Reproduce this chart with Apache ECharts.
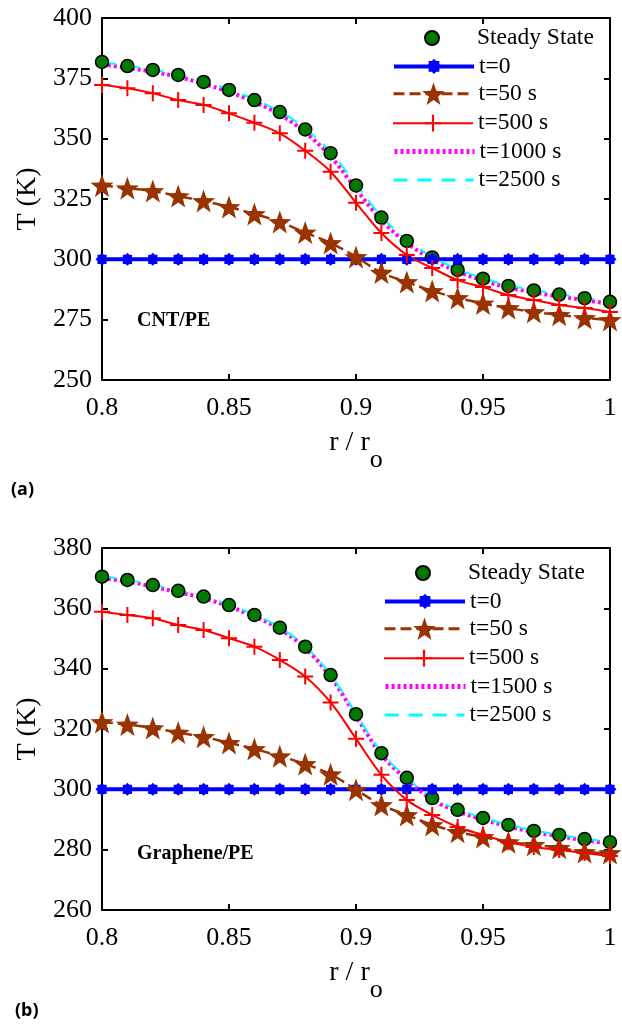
<!DOCTYPE html>
<html><head><meta charset="utf-8">
<script src="https://cdn.jsdelivr.net/npm/echarts@6/dist/echarts.min.js"></script>
<style>html,body{margin:0;padding:0;background:#fff}#c{width:622px;height:1027px}</style>
</head><body><div id="c"></div>
<script>
// ---------- data ----------
const rValues = [0.80,0.81,0.82,0.83,0.84,0.85,0.86,0.87,0.88,0.89,0.90,0.91,0.92,0.93,0.94,0.95,0.96,0.97,0.98,0.99,1.00];
const xTicks = [0.8, 0.85, 0.9, 0.95, 1];

// Panel (a) CNT/PE
const aSteady = [381.8,380.1,378.5,376.4,373.5,370.2,366.0,361.0,353.8,344.0,330.6,317.3,307.6,300.8,295.6,292.0,289.0,287.1,285.4,283.9,282.4];
const aT0     = [300,300,300,300,300,300,300,300,300,300,300,300,300,300,300,300,300,300,300,300,300];
const aT50    = [330.6,329.5,328.3,326.2,324.2,321.7,318.8,315.5,311.1,306.8,301.0,294.5,290.6,286.9,284.0,281.7,279.8,278.2,277.0,275.7,274.9];
const aT500   = [372.2,370.9,368.8,366.0,364.0,360.5,356.6,352.2,345.0,336.3,323.4,310.9,301.8,296.4,291.4,288.5,285.2,283.1,281.1,279.8,278.2];
const aT1000  = [380.8,379.3,377.7,375.6,372.7,369.4,365.2,360.0,352.6,342.6,329.2,316.2,306.8,300.0,294.9,291.2,288.3,286.3,284.6,283.1,281.6];
const aT2500  = [381.8,380.2,378.6,376.6,373.7,370.4,366.3,361.3,354.2,344.5,331.2,317.8,308.0,301.1,295.9,292.2,289.2,287.3,285.6,284.1,282.6];

// Panel (b) Graphene/PE
const bSteady = [370.5,369.4,367.7,365.8,363.9,361.1,357.8,353.6,347.3,337.9,324.9,312.0,303.8,297.1,293.2,290.5,288.2,286.2,284.9,283.5,282.5];
const bT0     = [300,300,300,300,300,300,300,300,300,300,300,300,300,300,300,300,300,300,300,300,300];
const bT50    = [322.3,321.5,320.3,318.8,317.4,315.4,313.4,311.0,308.4,305.0,299.9,294.8,291.5,288.2,285.9,284.2,282.5,281.6,280.6,279.2,278.9];
const bT500   = [358.9,357.8,356.7,354.5,352.8,350.1,347.3,342.9,337.4,328.8,316.8,304.8,296.5,291.5,287.5,284.9,282.5,280.9,279.9,278.9,277.9];
const bT1500  = [370.0,368.9,367.2,365.3,363.4,360.6,357.3,353.1,346.8,337.3,324.3,311.5,303.3,296.6,292.7,290.0,287.7,285.8,284.5,283.1,282.1];
const bT2500  = [370.6,369.5,367.8,365.9,364.0,361.2,357.9,353.7,347.4,338.0,325.1,312.2,303.9,297.2,293.3,290.6,288.3,286.3,285.0,283.6,282.6];

const aNames = ['Steady State','t=0','t=50 s','t=500 s','t=1000 s','t=2500 s'];
const bNames = ['Steady State','t=0','t=50 s','t=500 s','t=1500 s','t=2500 s'];
const panelLabels = ['CNT/PE', 'Graphene/PE'];

// ---------- styles ----------
function polyPath(n, r1, r2, rot) {
  let p = 'path://';
  for (let i = 0; i < 2 * n; i++) {
    const ang = rot + i * Math.PI / n;
    const r = (i % 2) ? r2 : r1;
    p += (i ? 'L' : 'M') + (10 + r * Math.cos(ang)).toFixed(2) + ',' + (10 + r * Math.sin(ang)).toFixed(2);
  }
  return p + 'Z';
}
const starPath = polyPath(5, 10, 4.1, -Math.PI / 2);
const asteriskPath = polyPath(8, 10, 7.6, 0);
const plusPath = 'path://M7,0L9,0L9,7L16,7L16,9L9,9L9,16L7,16L7,9L0,9L0,7L7,7Z';
const FONT = 'Liberation Serif';

const styles = {
  'Steady State': { symbol: 'circle', symbolSize: 13, color: '#007a00', border: true, lineStyle: { width: 0, opacity: 0 }, legendLine: { width: 0, opacity: 0 } },
  't=0':      { symbol: asteriskPath, symbolSize: 13, color: '#0000ff', lineStyle: { width: 4, color: '#0000ff' }, legendLine: { width: 4 } },
  't=50 s':   { symbol: starPath, symbolSize: 23, color: '#993300', lineStyle: { width: 2.5, color: '#993300', type: [11, 5] }, legendLine: { width: 3 } },
  't=500 s':  { symbol: plusPath, symbolSize: 16, color: '#ff0000', lineStyle: { width: 2, color: '#ff0000' }, legendLine: { width: 2 } },
  't=1000 s': { symbol: 'none', color: '#ff00ff', lineStyle: { width: 4, color: '#ff00ff', type: [3, 3] }, legendLine: { width: 5 } },
  't=1500 s': { symbol: 'none', color: '#ff00ff', lineStyle: { width: 4, color: '#ff00ff', type: [3, 3] }, legendLine: { width: 5 } },
  't=2500 s': { symbol: 'none', color: '#00ffff', lineStyle: { width: 2, color: '#00ffff', type: [14, 10] }, legendLine: { width: 3 } }
};
const legendIconH = { 'Steady State': 17.5, 't=0': 19, 't=50 s': 28, 't=500 s': 21, 't=1000 s': 14, 't=1500 s': 14, 't=2500 s': 14 };

function pairs(vals) { return rValues.map((r, i) => [r, vals[i]]); }

function makeSeries(names, valueSets, gi) {
  return names.map((nm, k) => {
    const st = styles[nm];
    return {
      name: nm, type: 'line', xAxisIndex: gi * 2, yAxisIndex: gi * 2,
      data: pairs(valueSets[k]), symbol: st.symbol === 'none' ? 'circle' : st.symbol,
      symbolSize: st.symbolSize || 4, showSymbol: st.symbol !== 'none',
      smooth: 0.35, animation: false, silent: true,
      itemStyle: st.border ? { color: st.color, borderColor: '#000', borderWidth: 1.5 } : { color: st.color },
      lineStyle: st.lineStyle
    };
  });
}

const grids = [
  { left: 102, top: 18, width: 508, height: 362 },
  { left: 102, top: 548, width: 508, height: 362 }
];
const yRanges = [
  { min: 250, max: 400, interval: 25 },
  { min: 260, max: 380, interval: 20 }
];

const axLine = { show: true, onZero: false, lineStyle: { color: '#000', width: 2 } };
const xAxes = [], yAxes = [];
[0, 1].forEach(gi => {
  xAxes.push({
    type: 'value', gridIndex: gi, position: 'bottom', min: xTicks[0], max: xTicks[xTicks.length - 1], interval: 0.05,
    axisLine: axLine, axisTick: { inside: true, length: 6, lineStyle: { color: '#000', width: 2 } },
    axisLabel: { color: '#000', fontFamily: FONT, fontSize: 26, margin: 15,
      formatter: v => String(+v.toFixed(2)) },
    splitLine: { show: false },
    name: '{a|r / r}{s|o}', nameLocation: 'middle', nameGap: 49,
    nameTextStyle: { fontFamily: FONT, rich: {
      a: { fontFamily: FONT, fontSize: 28, color: '#000', lineHeight: 40, verticalAlign: 'top' },
      s: { fontFamily: FONT, fontSize: 26, color: '#000', lineHeight: 44, verticalAlign: 'bottom' }
    } }
  });
  xAxes.push({
    type: 'value', gridIndex: gi, position: 'top', min: xTicks[0], max: xTicks[xTicks.length - 1], interval: 0.05,
    axisLine: axLine, axisTick: { inside: true, length: 6, lineStyle: { color: '#000', width: 2 } },
    axisLabel: { show: false }, splitLine: { show: false }
  });
  yAxes.push({
    type: 'value', gridIndex: gi, position: 'left', min: yRanges[gi].min, max: yRanges[gi].max, interval: yRanges[gi].interval,
    axisLine: axLine, axisTick: { inside: true, length: 6, lineStyle: { color: '#000', width: 2 } },
    axisLabel: { color: '#000', fontFamily: FONT, fontSize: 26, margin: 10 },
    splitLine: { show: false },
    name: 'T (K)', nameLocation: 'middle', nameGap: 58,
    nameTextStyle: { fontFamily: FONT, fontSize: 28, color: '#000' }
  });
  yAxes.push({
    type: 'value', gridIndex: gi, position: 'right', min: yRanges[gi].min, max: yRanges[gi].max, interval: yRanges[gi].interval,
    axisLine: axLine, axisTick: { inside: true, length: 6, lineStyle: { color: '#000', width: 2 } },
    axisLabel: { show: false }, splitLine: { show: false }
  });
});

// legends: one component per row so each icon gets its own size
const legendCfg = [
  { names: aNames, left: 392, firstRow: 38 },
  { names: bNames, left: 383, firstRow: 573 }
];
const rowStep = 28.4;
const legends = [];
legendCfg.forEach(cfg => {
  cfg.names.forEach((nm, i) => {
    const st = styles[nm];
    const h = legendIconH[nm];
    const boxH = Math.max(h, 26);
    const item = { name: nm, lineStyle: st.legendLine };
    if (st.symbol === 'none') item.itemStyle = { opacity: 0 };
    legends.push({
      data: [item], orient: 'vertical', left: cfg.left, top: cfg.firstRow + i * rowStep - boxH / 2,
      padding: 0, itemWidth: 80, itemHeight: h, selectedMode: false,
      textStyle: { fontFamily: FONT, fontSize: 23.5, color: '#000', lineHeight: 26 }
    });
  });
});

const series = [].concat(
  makeSeries(aNames, [aSteady, aT0, aT50, aT500, aT1000, aT2500], 0),
  makeSeries(bNames, [bSteady, bT0, bT50, bT500, bT1500, bT2500], 1)
);

const chart = echarts.init(document.getElementById('c'), null, { renderer: 'canvas' });
chart.setOption({
  backgroundColor: '#fff',
  animation: false,
  grid: grids,
  xAxis: xAxes,
  yAxis: yAxes,
  legend: legends,
  title: [
    { text: panelLabels[0], left: 132, top: 306, textStyle: { fontFamily: FONT, fontWeight: 'bold', fontSize: 20, color: '#000' } },
    { text: panelLabels[1], left: 132, top: 839, textStyle: { fontFamily: FONT, fontWeight: 'bold', fontSize: 20, color: '#000' } },
    { text: '(a)', left: 6, top: 476, textStyle: { fontFamily: 'Noto Sans', fontWeight: 'bold', fontSize: 18, color: '#000' } },
    { text: '(b)', left: 10, top: 997, textStyle: { fontFamily: 'Noto Sans', fontWeight: 'bold', fontSize: 18, color: '#000' } }
  ],
  series: series
});
</script>
</body></html>
